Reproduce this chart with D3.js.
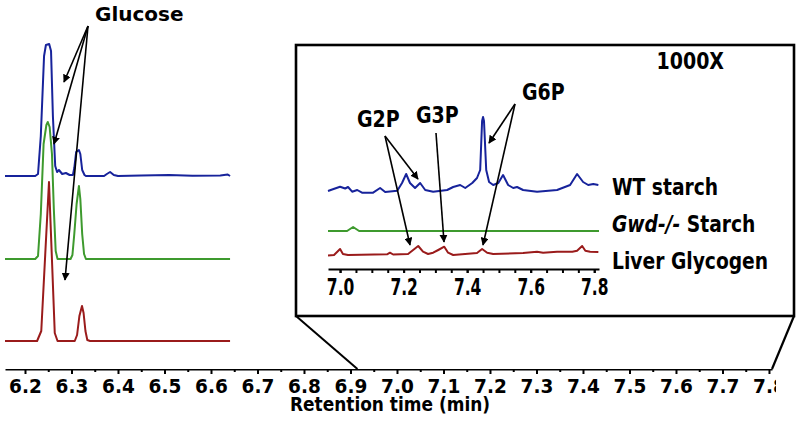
<!DOCTYPE html>
<meta charset="utf-8">
<head>
<style>
body { margin: 0; background: #fff; }
text { font-family: "DejaVu Sans", Verdana, sans-serif; font-weight: bold; fill: #000; }
.trace { fill: none; stroke-width: 2; stroke-linejoin: round; }
.axis path, .axis line { stroke: #000; stroke-width: 2; }
.arrow { stroke: #000; stroke-width: 1.6; fill: none; }
</style>
</head>
<body>
<script src="https://cdn.jsdelivr.net/npm/d3@7"></script>
<script>

// main chromatogram, [retention time, signal]
var wtMain = [[6.157,0],[6.222,0],[6.228,2],[6.234,40],[6.241,120],[6.245,131],[6.252,132],[6.256,125],[6.260,60],[6.265,10],[6.269,4],[6.273,6],[6.280,2],[6.288,3],[6.296,1],[6.303,1],[6.306,8],[6.310,24],[6.316,26],[6.319,22],[6.323,6],[6.328,1],[6.331,0],[6.370,0],[6.376,2],[6.383,4],[6.391,1],[6.400,0],[6.450,0.5],[6.510,1],[6.560,0.3],[6.620,0.5],[6.636,1.5],[6.641,0]];
var gwdMain = [[6.157,0],[6.222,0],[6.228,3],[6.234,45],[6.240,115],[6.246,134],[6.249,137],[6.253,132],[6.258,105],[6.262,50],[6.266,8],[6.270,0],[6.298,0],[6.302,4],[6.306,25],[6.311,55],[6.316,73],[6.319,60],[6.323,25],[6.327,5],[6.331,0],[6.641,0]];
var liverMain = [[6.157,0],[6.226,0],[6.235,10],[6.2516,159],[6.264,8],[6.270,0],[6.307,0],[6.312,6],[6.317,25],[6.3226,35],[6.326,28],[6.330,10],[6.334,1],[6.340,0],[6.641,0]];

// 1000X zoom
var wtZoom = [[6.962,0],[6.975,1.5],[7.000,4.3],[7.016,2.5],[7.025,4],[7.038,-0.7],[7.054,1],[7.069,-1.7],[7.104,-1.7],[7.126,3],[7.142,-1],[7.180,0.3],[7.195,8],[7.208,17],[7.220,8],[7.236,3],[7.252,8],[7.268,1],[7.293,-0.7],[7.337,1],[7.356,4],[7.378,6],[7.394,3],[7.416,8],[7.431,13],[7.441,21],[7.447,70],[7.450,74],[7.453,70],[7.460,21],[7.469,9],[7.482,6],[7.498,8],[7.513,16],[7.529,6],[7.545,3],[7.557,4],[7.576,1],[7.620,-0.7],[7.683,1],[7.724,6],[7.746,17],[7.765,9],[7.781,6],[7.797,7],[7.813,6]];
var gwdZoom = [[6.962,0],[7.022,0],[7.041,4],[7.060,0],[7.815,0]];
var liverZoom = [[6.962,-0.5],[6.981,0],[7.000,6],[7.009,1],[7.025,0],[7.148,0.7],[7.157,2.3],[7.167,0.5],[7.214,1],[7.230,5],[7.246,9],[7.261,3.3],[7.277,1],[7.293,2.3],[7.309,5],[7.328,8.3],[7.340,2.3],[7.356,0],[7.431,2],[7.447,6],[7.463,2.3],[7.482,1],[7.576,2],[7.620,3.3],[7.639,2.3],[7.683,3.3],[7.731,3.3],[7.746,4.3],[7.762,9],[7.772,4.3],[7.787,3.3],[7.813,3]];

var traceColors = ["#17239b", "#3e9a2e", "#9a1b1b"];
var mainOffsets = [193, 110, 28];
var zoomOffsets = [78, 38, 14];
var seriesNames = ["WT starch", "Gwd-/-", "Liver Glycogen"];

var mainTicks = d3.range(62, 79).map(function(d) { return d / 10; });
var mainMinor = d3.range(62, 78).map(function(d) { return d / 10 + 0.05; });
var zoomTicks = [7.0, 7.2, 7.4, 7.6, 7.8];
var zoomMinor = d3.range(140, 157).map(function(d) { return d / 20; });

var W = 800, H = 426;
var svg = d3.select("body").append("svg").attr("width", W).attr("height", H);

var x = d3.scaleLinear().domain([6.157, 7.8065]).range([5, 772]);
var y = d3.scaleLinear().domain([0, 330]).range([369, 39]);
var xz = d3.scaleLinear().domain([6.962, 7.815]).range([328, 599]);
var yz = d3.scaleLinear().domain([0, 224]).range([269, 45]);

// arrow marker
svg.append("defs").append("marker")
    .attr("id", "head")
    .attr("viewBox", "0 0 10 10")
    .attr("refX", 9).attr("refY", 5)
    .attr("markerWidth", 5).attr("markerHeight", 5)
    .attr("markerUnits", "strokeWidth")
    .attr("orient", "auto")
  .append("path").attr("d", "M0,0 L10,5 L0,10 z").attr("fill", "#000");

svg.append("clipPath").attr("id", "cut")
  .append("rect").attr("x", 0).attr("y", 0).attr("width", 776).attr("height", H);

function drawTraces(g, sets, xs, ys, offs) {
    sets.forEach(function(s, i) {
        var line = d3.line()
            .x(function(d) { return xs(d[0]); })
            .y(function(d) { return ys(d[1] + offs[i]); });
        g.append("path").attr("class", "trace")
            .attr("stroke", traceColors[i])
            .attr("d", line(s));
    });
}

function stretchText(g, txt, px, py, size, sy, anchor) {
    return g.append("text")
        .attr("transform", "translate(" + px + "," + py + ") scale(1," + sy + ")")
        .attr("font-size", size)
        .attr("text-anchor", anchor || "start")
        .text(txt);
}

function arrow(g, x1, y1, x2, y2, head) {
    g.append("line").attr("class", "arrow")
        .attr("x1", x1).attr("y1", y1).attr("x2", x2).attr("y2", y2)
        .attr("marker-end", head === false ? null : "url(#head)");
}

// main panel
drawTraces(svg, [wtMain, gwdMain, liverMain], x, y, mainOffsets);

var ax = svg.append("g").attr("class", "axis").attr("transform", "translate(0,369)");
ax.call(d3.axisBottom(x).tickValues(mainTicks).tickSize(5).tickSizeOuter(0).tickFormat(d3.format(".1f")));
ax.append("g").call(d3.axisBottom(x).tickValues(mainMinor).tickSize(3).tickFormat(""))
  .select(".domain").remove();
ax.selectAll(".tick text")
    .attr("y", null).attr("dy", null)
    .attr("fill", "#000")
    .attr("font-size", 18.5)
    .attr("font-family", "DejaVu Sans")
    .attr("font-weight", "bold")
    .attr("transform", "translate(0,23.5) scale(1,1.04)");
ax.attr("clip-path", "url(#cut)");

stretchText(svg, "Retention time (min)", 390, 411, 17, 1.12, "middle");
stretchText(svg, "Glucose", 95, 21, 20, 1, "start");
arrow(svg, 88, 26, 64, 82);
arrow(svg, 88, 26, 54, 144);
arrow(svg, 88, 26, 65, 280);

// zoom box and connectors
svg.append("rect").attr("x", 296).attr("y", 45).attr("width", 498).attr("height", 271)
    .attr("fill", "#fff").attr("stroke", "#000").attr("stroke-width", 2.6);
svg.append("line").attr("x1", 296).attr("y1", 316).attr("x2", x(6.915)).attr("y2", 369)
    .attr("stroke", "#000").attr("stroke-width", 2);
svg.append("line").attr("x1", 794).attr("y1", 316).attr("x2", x(7.8065)).attr("y2", 369)
    .attr("stroke", "#000").attr("stroke-width", 2.2);

var inset = svg.append("g");
drawTraces(inset, [wtZoom, gwdZoom, liverZoom], xz, yz, zoomOffsets);

var az = inset.append("g").attr("class", "axis").attr("transform", "translate(0,269)");
az.call(d3.axisBottom(xz).tickValues(zoomTicks).tickSize(4).tickSizeOuter(0).tickFormat(d3.format(".1f")));
az.append("g").call(d3.axisBottom(xz).tickValues(zoomMinor).tickSize(4).tickFormat(""))
  .select(".domain").remove();
az.selectAll(".tick text")
    .attr("y", null).attr("dy", null)
    .attr("fill", "#000")
    .attr("font-size", 15.5)
    .attr("font-family", "DejaVu Sans")
    .attr("font-weight", "bold")
    .attr("transform", "translate(0,26) scale(1,1.45)");

stretchText(inset, "1000X", 724, 69, 19, 1.2, "end");
stretchText(inset, "G2P", 357, 127, 19, 1.2);
stretchText(inset, "G3P", 416, 123, 19, 1.2);
stretchText(inset, "G6P", 522, 100, 19, 1.2);
stretchText(inset, seriesNames[0], 612, 195, 18.7, 1.22);
var gl = stretchText(inset, "", 612, 232, 18.7, 1.22);
gl.append("tspan").attr("font-style", "italic").text(seriesNames[1]);
gl.append("tspan").text(" Starch");
stretchText(inset, seriesNames[2], 612, 269, 18.7, 1.22);

arrow(inset, 385, 136, 418, 179);
arrow(inset, 385, 136, 410, 245);
arrow(inset, 436, 133, 444, 242);
arrow(inset, 515, 104, 489, 143);
arrow(inset, 515, 104, 483, 245);

</script>
</body>
